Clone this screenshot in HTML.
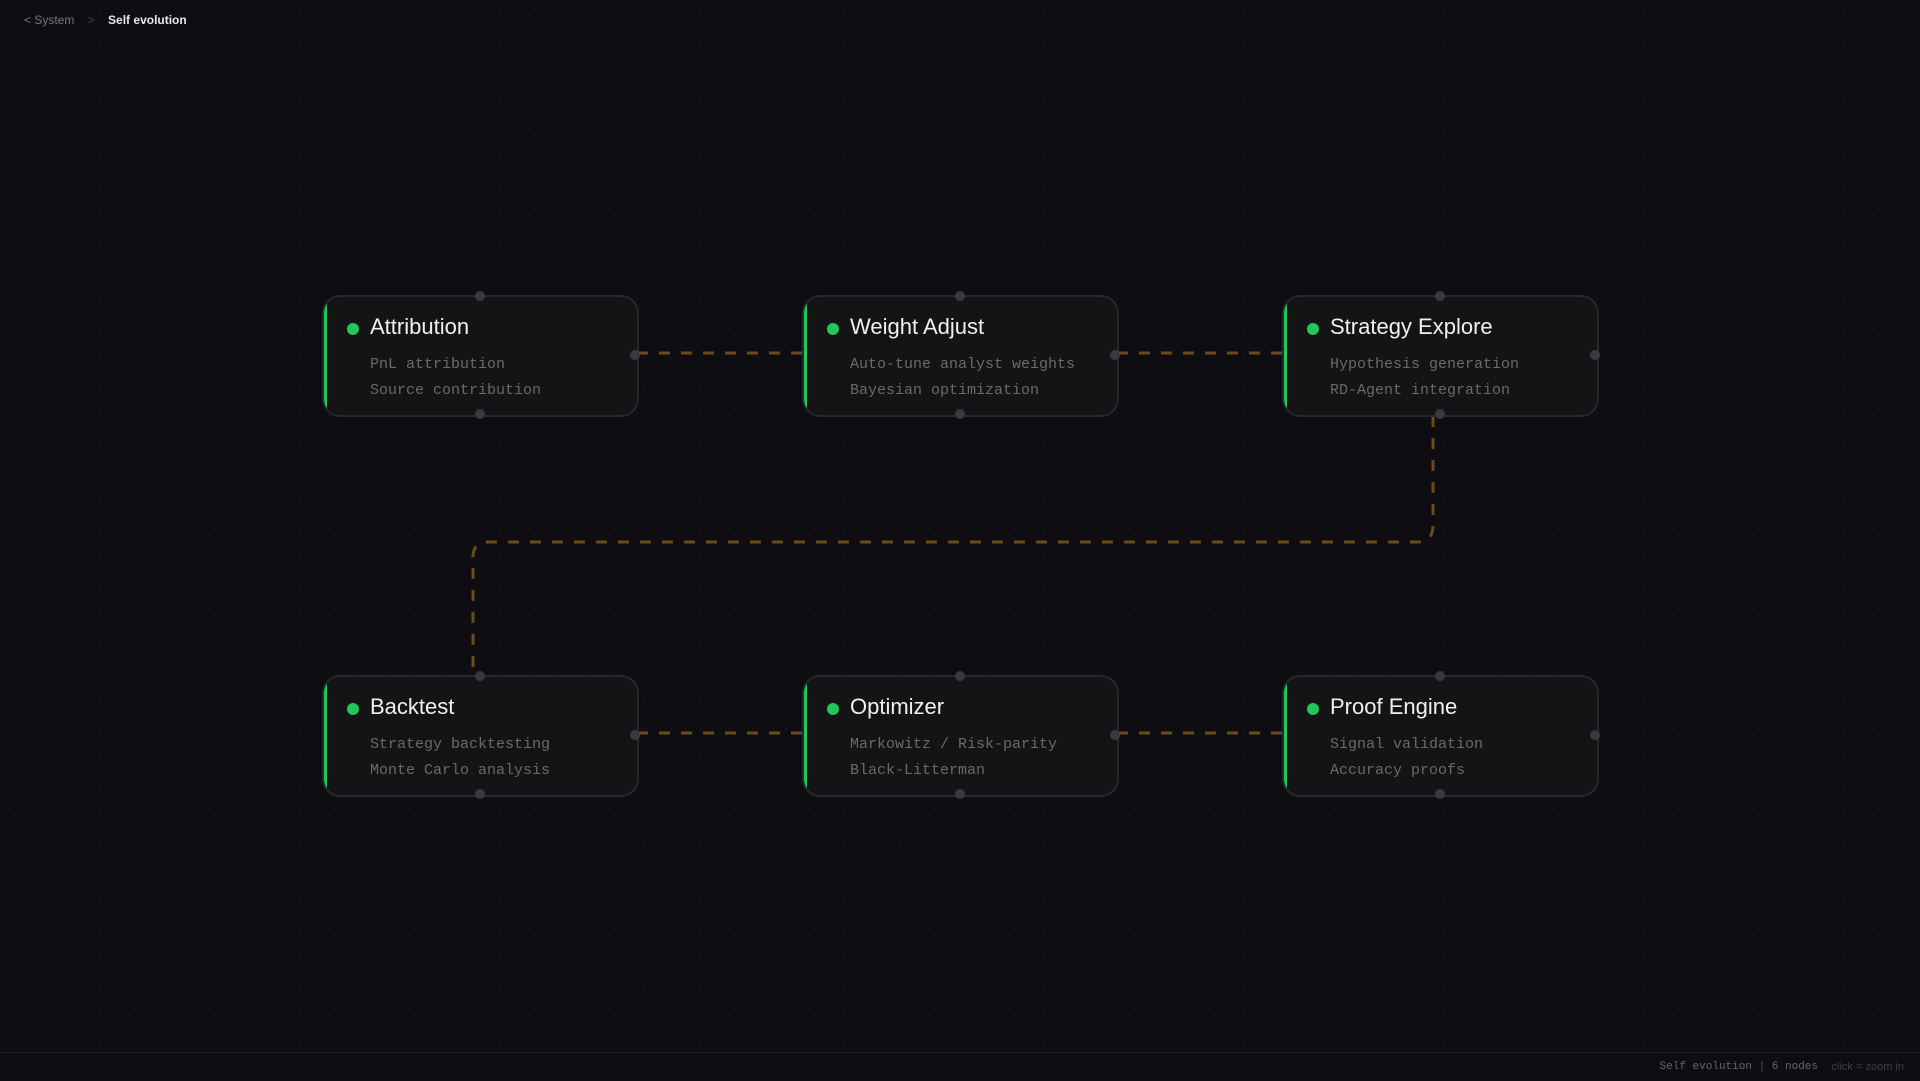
<!DOCTYPE html>
<html><head><meta charset="utf-8"><style>
body{margin:0;width:1920px;height:1080px;background:#0e0e12;overflow:hidden;position:relative;font-family:"Liberation Sans",sans-serif;
background-image:radial-gradient(circle,#18181d 1px,transparent 1.3px);background-size:28.6px 28.6px;}
.bc{position:absolute;left:24px;top:13px;font-size:12px;color:#777;}
.bc b{color:#e8e8e8;font-weight:600;margin-left:10px}
.bc span{color:#444;margin-left:10px}
.node{position:absolute;width:317px;height:122px;border:2px solid #28282c;border-radius:18px;background:#141316;box-sizing:border-box;overflow:hidden}
.node:before{content:"";position:absolute;left:0;top:0;bottom:0;width:3px;background:#22c55e;border-radius:18px 0 0 18px}
.node .t{position:absolute;left:46px;top:17px;font-size:22px;color:#f0f0f0}
.node .d{position:absolute;left:23px;top:26px;width:12px;height:12px;border-radius:50%;background:#22c55e}
.node .s{position:absolute;left:46px;top:55px;font-family:"Liberation Mono",monospace;font-size:15px;line-height:26px;color:#6a6a6a}
.h{position:absolute;width:10px;height:10px;border-radius:50%;background:#3a3a3e}
.foot{position:absolute;left:0;right:0;top:1052px;height:28px;border-top:1px solid #1e1e22;background:#0e0e12;font-size:11px}
.foot .a{position:absolute;right:102px;top:8px;font-family:"Liberation Mono",monospace;color:#666}
.foot .b{position:absolute;right:16px;top:8px;color:#3e3e42}
</style></head><body>
<div class="bc">&lt; System <span>&gt;</span> <b>Self evolution</b></div>
<svg width="1920" height="1080" style="position:absolute;left:0;top:0">
<g fill="none" stroke="#6b4a1e" stroke-width="3" stroke-dasharray="11 11">
<path d="M637 353 H802"/><path d="M1117 353 H1282"/>
<path d="M637 733 H802"/><path d="M1117 733 H1282"/>
<path d="M1433 416 V525 Q1433 542 1418 542 H488 Q473 542 473 557 V672"/>
</g></svg>
<div class="node" style="left:322px;top:295px"><div class="d"></div><div class="t">Attribution</div><div class="s">PnL attribution<br>Source contribution</div></div>
<div class="node" style="left:802px;top:295px"><div class="d"></div><div class="t">Weight Adjust</div><div class="s">Auto-tune analyst weights<br>Bayesian optimization</div></div>
<div class="node" style="left:1282px;top:295px"><div class="d"></div><div class="t">Strategy Explore</div><div class="s">Hypothesis generation<br>RD-Agent integration</div></div>
<div class="node" style="left:322px;top:675px"><div class="d"></div><div class="t">Backtest</div><div class="s">Strategy backtesting<br>Monte Carlo analysis</div></div>
<div class="node" style="left:802px;top:675px"><div class="d"></div><div class="t">Optimizer</div><div class="s">Markowitz / Risk-parity<br>Black-Litterman</div></div>
<div class="node" style="left:1282px;top:675px"><div class="d"></div><div class="t">Proof Engine</div><div class="s">Signal validation<br>Accuracy proofs</div></div>
<div class="h" style="left:475px;top:291px"></div><div class="h" style="left:475px;top:409px"></div>
<div class="h" style="left:955px;top:291px"></div><div class="h" style="left:955px;top:409px"></div>
<div class="h" style="left:1435px;top:291px"></div><div class="h" style="left:1435px;top:409px"></div>
<div class="h" style="left:475px;top:671px"></div><div class="h" style="left:475px;top:789px"></div>
<div class="h" style="left:955px;top:671px"></div><div class="h" style="left:955px;top:789px"></div>
<div class="h" style="left:1435px;top:671px"></div><div class="h" style="left:1435px;top:789px"></div>
<div class="h" style="left:630px;top:350px"></div><div class="h" style="left:1110px;top:350px"></div><div class="h" style="left:1590px;top:350px"></div>
<div class="h" style="left:630px;top:730px"></div><div class="h" style="left:1110px;top:730px"></div><div class="h" style="left:1590px;top:730px"></div>
<div class="foot"><span class="a">Self evolution <span style="color:#6b4a1e">|</span> 6 nodes</span><span class="b">click = zoom in</span></div>
</body></html>
